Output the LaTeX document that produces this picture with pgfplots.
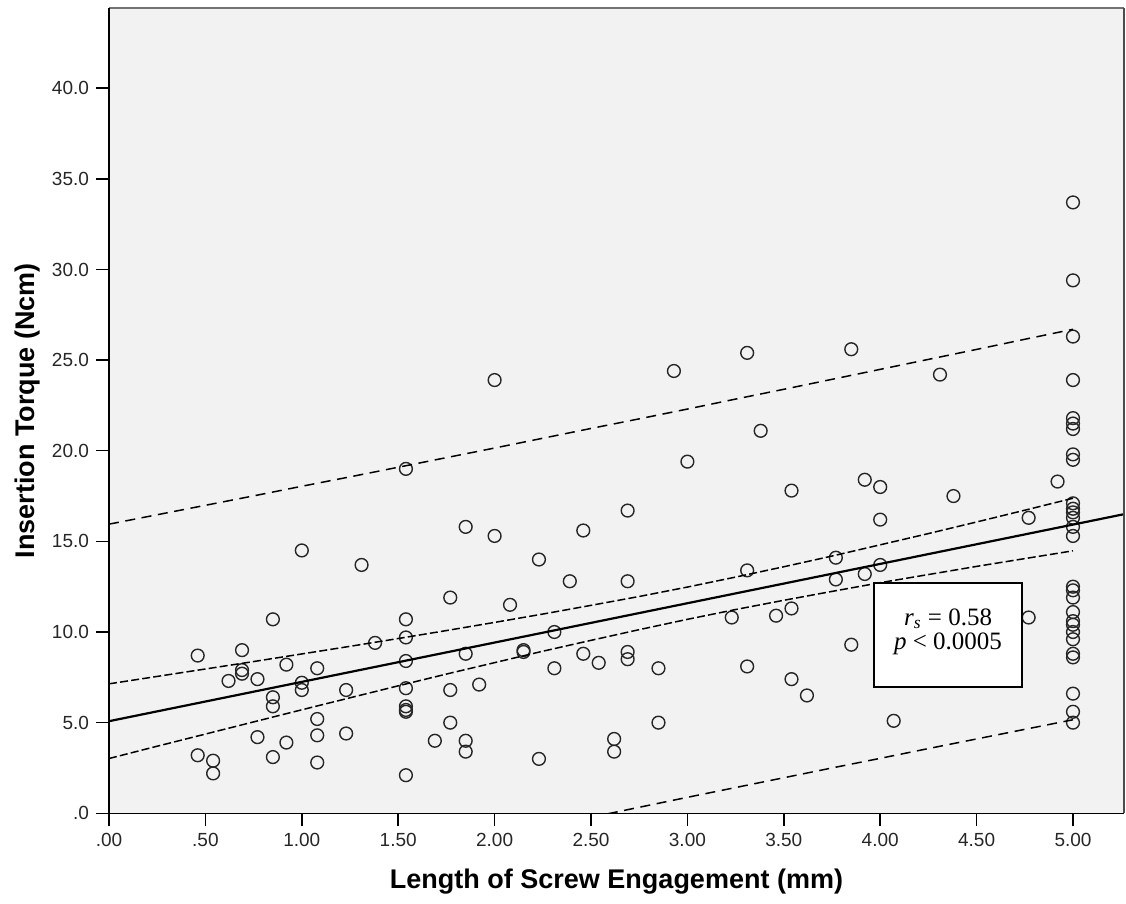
\documentclass[border=0pt]{standalone}
\usepackage{pgfplots}
\pgfplotsset{compat=1.18}
\usepackage{fontspec}
\setmainfont{Liberation Sans}
\newfontfamily\timesfont{Liberation Serif}
\definecolor{bggray}{RGB}{242,242,242}
\begin{document}
\begin{tikzpicture}
\begin{axis}[
  scale only axis,
  width=507.5bp, height=402.5bp,
  xmin=0, xmax=5.2645, ymin=0, ymax=44.41,
  axis background/.style={fill=bggray},
  axis line style={draw=none},
  clip mode=individual,
  tick align=outside,
  tick pos=left,
  major tick length=6.5bp,
  tick style={black, line width=0.75bp},
  xtick={0,0.5,1,1.5,2,2.5,3,3.5,4,4.5,5},
  xticklabels={.00,.50,1.00,1.50,2.00,2.50,3.00,3.50,4.00,4.50,5.00},
  ytick={0,5,10,15,20,25,30,35,40},
  yticklabels={.0,5.0,10.0,15.0,20.0,25.0,30.0,35.0,40.0},
  ticklabel style={font=\fontsize{9.5bp}{11bp}\selectfont, text=black!85},
  xlabel={Length of Screw Engagement (mm)},
  ylabel={Insertion Torque (Ncm)},
  label style={font=\bfseries\fontsize{13.5bp}{16bp}\selectfont},
  xlabel style={at={(axis description cs:0.5,0)}, anchor=base, yshift=-37.5bp},
  ylabel style={at={(axis description cs:-0.0798,0.5)}, anchor=center},
]
\path (rel axis cs:-0.1074,-0.1118) rectangle (rel axis cs:1.002,1.0103);
% scatter points
\addplot[only marks, mark=o, mark size=3.2bp, mark options={line width=0.7bp, draw=black!85}] table {
x y
0.46 8.7
0.69 9.0
0.69 7.9
0.69 7.7
0.62 7.3
0.77 7.4
0.85 10.7
0.85 6.4
0.85 5.9
0.92 8.2
1.00 7.2
1.00 6.8
1.08 8.0
1.23 6.8
1.38 9.4
1.54 10.7
1.54 9.7
1.54 8.4
1.54 6.9
1.54 5.9
1.54 5.7
1.54 5.6
1.54 2.1
1.77 11.9
1.85 8.8
1.77 6.8
1.77 5.0
1.92 7.1
1.85 4.0
1.85 3.4
1.69 4.0
0.46 3.2
0.54 2.9
0.54 2.2
0.77 4.2
0.85 3.1
0.92 3.9
1.08 5.2
1.08 4.3
1.08 2.8
1.23 4.4
2.00 23.9
1.54 19.0
1.00 14.5
1.31 13.7
1.85 15.8
2.00 15.3
2.23 14.0
2.46 15.6
2.69 16.7
2.39 12.8
2.69 12.8
2.08 11.5
2.15 9.0
2.15 8.9
2.31 10.0
2.31 8.0
2.46 8.8
2.54 8.3
2.69 8.9
2.69 8.5
2.85 8.0
2.85 5.0
2.62 4.1
2.62 3.4
2.23 3.0
3.23 10.8
3.31 8.1
3.46 10.9
3.54 11.3
3.85 9.3
3.54 7.4
3.62 6.5
4.07 5.1
4.77 10.8
2.93 24.4
3.31 25.4
3.85 25.6
4.31 24.2
3.38 21.1
3.00 19.4
3.54 17.8
3.92 18.4
4.00 18.0
4.38 17.5
4.92 18.3
4.00 16.2
4.77 16.3
3.77 14.1
3.77 12.9
3.92 13.2
4.00 13.7
3.31 13.4
5.00 33.7
5.00 29.4
5.00 26.3
5.00 23.9
5.00 21.8
5.00 21.5
5.00 21.2
5.00 19.8
5.00 19.5
5.00 17.1
5.00 16.8
5.00 16.6
5.00 16.3
5.00 15.8
5.00 15.3
5.00 12.5
5.00 12.3
5.00 11.9
5.00 11.1
5.00 10.6
5.00 10.4
5.00 10.0
5.00 9.6
5.00 8.8
5.00 8.6
5.00 6.6
5.00 5.6
5.00 5.0
};
% fit line
\addplot[black, line width=1.1bp] coordinates {(0,5.08) (5.2645,16.50)};
% mean CI upper
\addplot[black, line width=0.75bp, dash pattern=on 4bp off 1.6bp] table {
x y
0 7.14
0.25 7.55
0.5 7.96
0.75 8.37
1.0 8.79
1.25 9.21
1.5 9.64
1.75 10.08
2.0 10.53
2.25 10.99
2.5 11.47
2.75 11.96
3.0 12.48
3.25 13.03
3.5 13.60
3.75 14.19
4.0 14.81
4.25 15.43
4.5 16.07
4.75 16.72
5.0 17.38
};
% mean CI lower
\addplot[black, line width=0.75bp, dash pattern=on 4bp off 1.6bp] table {
x y
0 3.02
0.25 3.70
0.5 4.37
0.75 5.04
1.0 5.71
1.25 6.37
1.5 7.03
1.75 7.68
2.0 8.31
2.25 8.94
2.5 9.54
2.75 10.13
3.0 10.70
3.25 11.24
3.5 11.75
3.75 12.24
4.0 12.72
4.25 13.17
4.5 13.62
4.75 14.05
5.0 14.48
};
% prediction upper
\addplot[black, line width=0.75bp, dash pattern=on 5bp off 3.3bp] table {
x y
0 15.95
0.25 16.47
0.5 16.99
0.75 17.51
1.0 18.04
1.25 18.56
1.5 19.09
1.75 19.62
2.0 20.15
2.25 20.69
2.5 21.23
2.75 21.76
3.0 22.30
3.25 22.85
3.5 23.39
3.75 23.94
4.0 24.49
4.25 25.04
4.5 25.59
4.75 26.15
5.0 26.70
};
% prediction lower
\addplot[black, line width=0.75bp, dash pattern=on 5bp off 3.3bp] table {
x y
2.25 -0.76
2.5 -0.22
2.75 0.33
3.0 0.88
3.25 1.42
3.5 1.96
3.75 2.50
4.0 3.03
4.25 3.57
4.5 4.10
4.75 4.63
5.0 5.16
};
% annotation box
\draw[fill=white, line width=0.9bp] (axis cs:3.968,6.95) rectangle (axis cs:4.735,12.69);
\node[font=\timesfont\fontsize{12.5bp}{15bp}\selectfont, anchor=base, inner sep=0pt] at (axis cs:4.352,10.375) {\textit{r}\textsubscript{\textit{s}} = 0.58};
\node[font=\timesfont\fontsize{12.5bp}{15bp}\selectfont, anchor=base, inner sep=0pt] at (axis cs:4.352,9.03) {\textit{p} < 0.0005};
% frame
\draw[black!55, line width=1.2bp] (rel axis cs:0,1) -- (rel axis cs:1,1);
\draw[black!70, line width=0.9bp] (rel axis cs:1,0) -- (rel axis cs:1,1);
\draw[black, line width=0.75bp] (rel axis cs:0,1) -- (rel axis cs:0,0) -- (rel axis cs:1,0);
\end{axis}
\end{tikzpicture}
\end{document}
